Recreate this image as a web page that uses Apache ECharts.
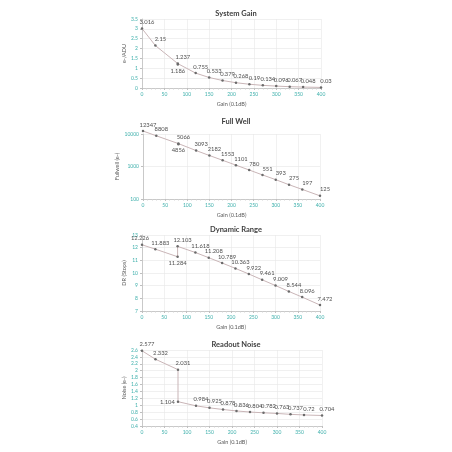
<!DOCTYPE html>
<html><head><meta charset="utf-8">
<script src="https://cdn.jsdelivr.net/npm/echarts@6/dist/echarts.min.js"></script>
<style>html,body{margin:0;padding:0;background:#fff}#c{width:452px;height:452px}</style>
</head><body><div id="c"></div>
<script>
const gains = [0, 30, 80, 80, 120, 150, 180, 210, 240, 270, 300, 330, 360, 400];
const systemGain = [3.016, 2.15, 1.237, 1.186, 0.755, 0.533, 0.379, 0.268, 0.19, 0.134, 0.096, 0.067, 0.048, 0.03];
const fullWell = [12347, 8808, 5066, 4856, 3093, 2182, 1553, 1101, 780, 551, 393, 275, 197, 125];
const dynamicRange = [12.226, 11.883, 11.284, 12.103, 11.618, 11.208, 10.789, 10.363, 9.922, 9.461, 9.009, 8.544, 8.096, 7.472];
const readoutNoise = [2.577, 2.332, 2.031, 1.104, 0.984, 0.925, 0.878, 0.836, 0.804, 0.782, 0.763, 0.737, 0.72, 0.704];
const titles = ['System Gain', 'Full Well', 'Dynamic Range', 'Readout Noise'];
const yNames = ['e-/ADU', 'Fullwell (e-)', 'DR (Stops)', 'Noise (e-)'];
const xName = 'Gain (0.1dB)';

const FONT = 'Lato';
const TEAL = '#3fb0ac';
const grids = [
  {left: 142, right: 131, top: 19, height: 69},
  {left: 143, right: 132, top: 134, height: 65},
  {left: 142, right: 132, top: 235, height: 76},
  {left: 142, right: 130, top: 350, height: 76}
];
const titleTops = [5, 113, 221, 336];
const yCfg = [
  {type: 'value', min: 0, max: 3.5, interval: 0.5},
  {type: 'log', min: 100, max: 10000, logBase: 10},
  {type: 'value', min: 7, max: 13, interval: 1},
  {type: 'value', min: 0.4, max: 2.6, interval: 0.2}
];
const series = [systemGain, fullWell, dynamicRange, readoutNoise];
// which label at the step (x=80) sits below / left
function labelCfg(chart, i) {
  if (chart === 0 && i === 3) return {position: 'bottom'};
  if (chart === 1 && i === 3) return {position: 'bottom'};
  if (chart === 2 && i === 2) return {position: 'bottom'};
  if (chart === 3 && i === 3) return {position: 'left'};
  if (chart === 2 && i === 0) return {position: 'top', offset: [-2, 0]};
  return {position: 'top', offset: [5, 0]};
}
const option = {
  animation: false,
  textStyle: {fontFamily: FONT},
  title: titles.map((t, k) => ({
    text: t, left: 231, top: titleTops[k], textAlign: 'center',
    textStyle: {fontFamily: FONT, fontSize: 7.5, fontWeight: 'bold', color: '#404040'}
  })),
  grid: grids,
  xAxis: grids.map((g, k) => ({
    type: 'value', gridIndex: k, min: 0, max: 400, interval: 50,
    name: xName, nameLocation: 'middle', nameGap: 13,
    nameTextStyle: {fontSize: 5.5, color: '#595959', fontFamily: FONT},
    axisLine: {lineStyle: {color: '#bfbfbf', width: 0.8}},
    axisTick: {show: true, length: 2, lineStyle: {color: '#bfbfbf'}},
    minorTick: {show: true, splitNumber: 5, length: 1.5, lineStyle: {color: '#d0d0d0'}},
    axisLabel: {fontSize: 5, color: TEAL, margin: 4, fontFamily: FONT},
    splitLine: {show: true, lineStyle: {color: '#e8e8e8', width: 0.6}}
  })),
  yAxis: yCfg.map((c, k) => Object.assign({
    gridIndex: k,
    name: yNames[k], nameLocation: 'middle', nameGap: k === 1 ? 18 : 15,
    nameTextStyle: {fontSize: 5.5, color: '#595959', fontFamily: FONT},
    axisLine: {show: true, lineStyle: {color: '#bfbfbf', width: 0.8}},
    axisTick: {show: true, length: 2, lineStyle: {color: '#bfbfbf'}},
    axisLabel: {fontSize: 5, color: TEAL, margin: 4, fontFamily: FONT, formatter: v => String(v)},
    splitLine: {show: true, lineStyle: {color: '#e6e6e6', width: 0.6}}
  }, c)),
  series: series.map((vals, k) => ({
    type: 'line', xAxisIndex: k, yAxisIndex: k, clip: false,
    data: gains.map((g, i) => ({
      value: [g, vals[i]],
      label: labelCfg(k, i)
    })),
    symbol: 'circle', symbolSize: 2.5,
    itemStyle: {color: '#6b6b6b'},
    lineStyle: {color: '#c9b5b7', width: 1},
    label: {
      show: true, fontSize: 5.8, color: '#505050', fontFamily: FONT, distance: 2,
      formatter: p => String(p.value[1])
    }
  }))
};
echarts.init(document.getElementById('c'), null, {renderer: 'canvas'}).setOption(option);
</script></body></html>
